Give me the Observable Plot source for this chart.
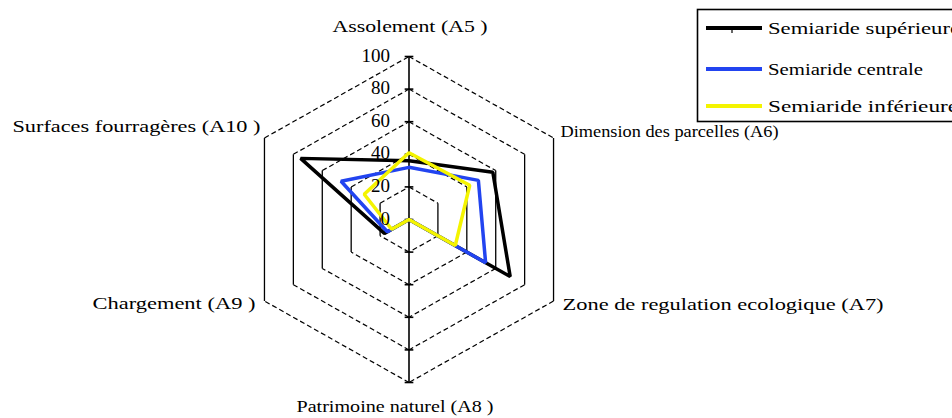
<!DOCTYPE html>
<html>
<head>
<meta charset="utf-8">
<script src="https://cdn.jsdelivr.net/npm/d3@7"></script>
<script src="https://cdn.jsdelivr.net/npm/@observablehq/plot@0.6"></script>
<style>
  body { margin: 0; background: #fff; }
  #wrap { position: relative; width: 952px; height: 418px; overflow: hidden; background: #fff; }
  #legend { position: absolute; left: 0; top: 0; }
</style>
</head>
<body>
<div id="wrap"></div>
<script>
// ---------- data ----------
const axisNames = ["Assolement (A5 )", "Dimension des parcelles (A6)", "Zone de regulation ecologique (A7)",
                   "Patrimoine naturel (A8 )", "Chargement (A9 )", "Surfaces fourragères (A10 )"];
const series = ["Semiaride supérieure", "Semiaride centrale", "Semiaride inférieure"];
const supValues  = [36, 58, 70, 0, 17, 75];
const centValues = [32, 48, 53, 0, 15, 47];
const infValues  = [41, 42, 32, 0, 12, 31];
const gridLevels = [20, 40, 60, 80, 100];
const tickValues = [0, 20, 40, 60, 80, 100];
const tickLabels = ["0", "20", "40", "60", "80", "100"];

// ---------- styles / layout ----------
const colors = ["#000000", "#2244f0", "#f4f400"];
const W = 952, H = 418;
const cx = 408.5, cy = 219, rx = 166.9, ry = 163;
const labelLayout = [ // dx, dy, anchor, textLength, fontSize
  {dx: 1, dy: -30, anchor: "middle", len: 155, fs: 17},
  {dx: 7, dy: -6, anchor: "start", len: 218, fs: 17},
  {dx: 9, dy: 4, anchor: "start", len: 321, fs: 17},
  {dx: -14, dy: 24, anchor: "middle", len: 197, fs: 16},
  {dx: -9, dy: 3, anchor: "end", len: 163, fs: 17},
  {dx: -4, dy: -11, anchor: "end", len: 248, fs: 17}
];
const legendTextLen = [192, 155, 190];

// ---------- geometry ----------
const angle = i => (90 - 60 * i) * Math.PI / 180;
const pt = (v, i) => ({x: v / 100 * Math.cos(angle(i)), y: v / 100 * Math.sin(angle(i))});

const allValues = [supValues, centValues, infValues];
const rows = [];
allValues.forEach((vals, s) => vals.forEach((v, i) => rows.push({series: series[s], axis: axisNames[i], ...pt(v, i)})));

const edges = [];
gridLevels.forEach(L => axisNames.forEach((_, i) => {
  const j = (i + 1) % axisNames.length;
  const a = pt(L, i), b = pt(L, j);
  edges.push({x1: a.x, y1: a.y, x2: b.x, y2: b.y, vertical: Math.abs(a.x - b.x) < 1e-9});
}));

const axisLine = [{a: pt(100, 3), b: pt(100, 0)}];
const tickHalf = 0.026;
const ticks = [];
tickValues.forEach(v => { ticks.push({y: v / 100}); if (v > 0) ticks.push({y: -v / 100}); });

const labels = axisNames.map((name, i) => ({name, ...pt(100, i), ...labelLayout[i]}));

const plot = Plot.plot({
  width: W, height: H,
  marginTop: 0, marginRight: 0, marginBottom: 0, marginLeft: 0,
  x: {domain: [-cx / rx, (W - cx) / rx], axis: null},
  y: {domain: [-(H - cy) / ry, cy / ry], axis: null},
  color: {domain: series, range: colors},
  style: {background: "transparent"},
  marks: [
    Plot.link(edges.filter(d => !d.vertical), {x1: "x1", y1: "y1", x2: "x2", y2: "y2", stroke: "#000", strokeWidth: 1.2, strokeDasharray: "5,3"}),
    Plot.link(edges.filter(d => d.vertical), {x1: "x1", y1: "y1", x2: "x2", y2: "y2", stroke: "#000", strokeWidth: 1.3}),
    Plot.link(axisLine, {x1: d => d.a.x, y1: d => d.a.y, x2: d => d.b.x, y2: d => d.b.y, stroke: "#000", strokeWidth: 1.6}),
    Plot.link(ticks, {x1: -tickHalf, x2: tickHalf, y1: "y", y2: "y", stroke: "#000", strokeWidth: 1.6}),
    Plot.line(rows, {x: "x", y: "y", z: "series", stroke: "series", curve: "linear-closed", strokeWidth: 3.5, strokeLinejoin: "miter"}),
    Plot.text(tickValues, {x: 0, y: v => v / 100, text: (v, i) => tickLabels[i], dx: -19, dy: -1, textAnchor: "end",
      fontSize: 19, fontFamily: "Liberation Serif, serif", fill: "#000"}),
    ...labels.map(d => Plot.text([d], {x: "x", y: "y", text: "name", dx: d.dx, dy: d.dy, textAnchor: d.anchor,
      fontSize: d.fs, fontFamily: "Liberation Serif, serif", fill: "#000"}))
  ]
});
document.getElementById("wrap").appendChild(plot);

// stretch axis labels like the reference
d3.select(plot).selectAll("text").each(function() {
  const t = this.textContent;
  const idx = axisNames.indexOf(t);
  if (idx >= 0) {
    d3.select(this).attr("textLength", labelLayout[idx].len).attr("lengthAdjust", "spacingAndGlyphs");
  }
});

// ---------- legend ----------
const legend = d3.select("#wrap").append("svg")
  .attr("id", "legend").attr("width", W).attr("height", H);
legend.append("rect").attr("x", 697.5).attr("y", 9.5).attr("width", 300).attr("height", 112)
  .attr("fill", "#fff").attr("stroke", "#000").attr("stroke-width", 1.6);
const legendY = [28, 69, 106];
series.forEach((s, i) => {
  const g = legend.append("g");
  g.append("line").attr("x1", 706).attr("x2", 762).attr("y1", legendY[i]).attr("y2", legendY[i])
    .attr("stroke", colors[i]).attr("stroke-width", 4);
  if (i === 0) g.append("line").attr("x1", 732).attr("x2", 732).attr("y1", legendY[i]).attr("y2", legendY[i] + 5)
    .attr("stroke", "#000").attr("stroke-width", 1.2);
  g.append("text").attr("x", 768).attr("y", legendY[i]).attr("dy", "0.35em")
    .attr("font-family", "Liberation Serif, serif").attr("font-size", 16)
    .attr("textLength", legendTextLen[i]).attr("lengthAdjust", "spacingAndGlyphs").text(s);
});
</script>
</body>
</html>
